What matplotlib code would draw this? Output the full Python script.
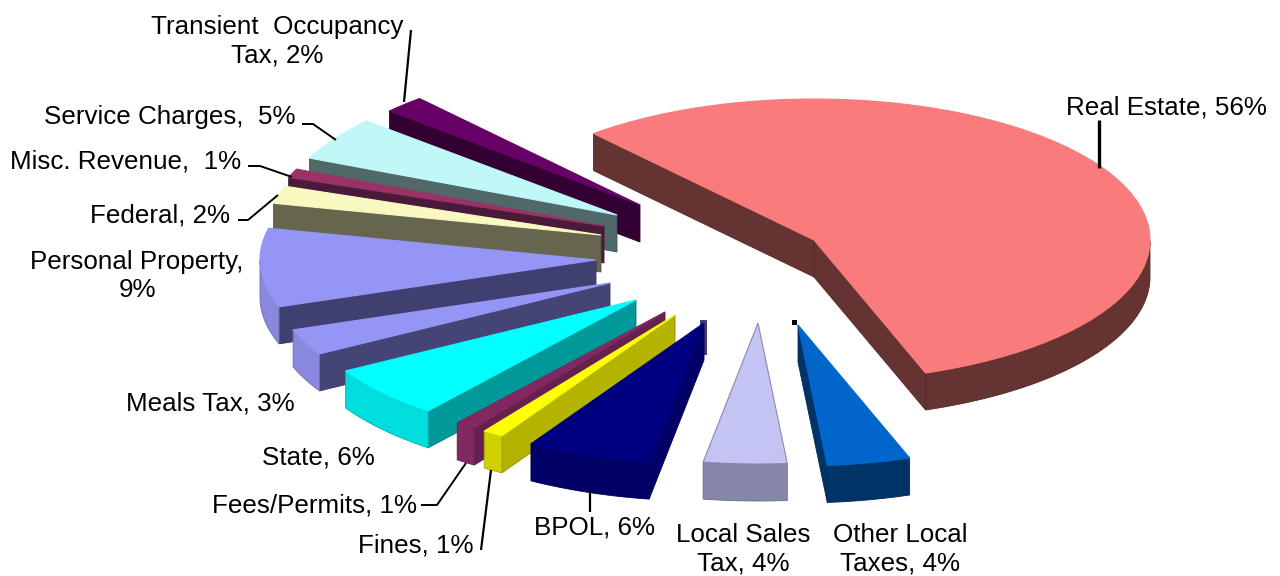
import numpy as np
import matplotlib
matplotlib.use("Agg")
import matplotlib.pyplot as plt
from matplotlib.colors import to_rgb
from matplotlib.patches import Polygon, Rectangle
from matplotlib.transforms import Affine2D

plt.rcParams['font.family'] = ['Liberation Sans', 'DejaVu Sans']

# ---- data ----
categories = ["Real Estate", "Other Local Taxes", "Local Sales Tax", "BPOL", "Fines",
              "Fees/Permits", "State", "Meals Tax", "Personal Property", "Federal",
              "Misc. Revenue", "Service Charges", "Transient Occupancy Tax"]
values = [56, 4, 4, 6, 1, 1, 6, 3, 9, 2, 1, 5, 2]

# ---- layout and style ----
START_ANGLE = 131
RX, RY, DEPTH = 336, 141, 37
apex = [(814, 240), (798, 325), (758, 323), (704, 323), (675, 315), (665, 312),
        (636, 300), (610, 283), (596, 260), (601, 235), (604, 226), (617, 215), (640, 205)]
top_colors = ['#F97B7B', '#0066CC', '#C4C4F4', '#000080', '#FFFF00', '#80285F', '#00FFFF',
              '#9595F5', '#9595F5', '#F8F8C0', '#993366', '#C0F8F8', '#660066']
arc_colors = ['#663333', '#003366', '#8686A8', '#000066', '#D0D000', '#80285F', '#00DDDD',
              '#8888DD', '#8888DD', '#66664F', '#4A1A3A', '#506868', '#330033']
radial_colors = ['#663333', '#003366', '#8686A8', '#000066', '#B3B300', '#65204D', '#009999',
                 '#444477', '#404070', '#66664F', '#4A1A3A', '#506868', '#330033']
draw_order = [12, 11, 10, 9, 8, 7, 6, 5, 4, 3, 2, 1, 0]

label_items = [
    ("Transient  Occupancy\nTax, 2%", 277, 41, 'center'),
    ("Service Charges,  5%", 296, 117, 'right'),
    ("Misc. Revenue,  1%", 241, 162, 'right'),
    ("Federal, 2%", 230, 215, 'right'),
    ("Personal Property,\n9%", 137, 276, 'center'),
    ("Meals Tax, 3%", 295, 404, 'right'),
    ("State, 6%", 375, 458, 'right'),
    ("Fees/Permits, 1%", 417, 505, 'right'),
    ("Fines, 1%", 474, 545, 'right'),
    ("BPOL, 6%", 594, 528, 'center'),
    ("Local Sales\nTax, 4%", 743, 549, 'center'),
    ("Other Local\nTaxes, 4%", 900, 549, 'center'),
    ("Real Estate, 56%", 1267, 107, 'right'),
]
leaders = [
    ([411, 404], [30, 102], 1.6),
    ([302, 313, 336], [124, 124, 140], 1.4),
    ([248, 260, 292], [166, 166, 177], 1.4),
    ([238, 248, 278], [220, 220, 195], 1.4),
    ([421, 437, 466], [505, 505, 463], 1.4),
    ([491, 481], [470, 550], 1.6),
    ([590, 590], [490, 512], 1.6),
    ([1099, 1099], [120, 168], 2.4),
]

fig = plt.figure(figsize=(12.8, 5.76), dpi=100)
ax = fig.add_axes([0, 0, 1, 1])
wedges, _ = ax.pie(values, startangle=START_ANGLE, counterclock=False, radius=1)
ax.set_aspect('auto')
ax.set_xlim(0, 1280)
ax.set_ylim(576, 0)
ax.axis('off')


def to_px(theta, origin):
    t = np.radians(theta)
    return np.column_stack([origin[0] + RX * np.cos(t), origin[1] - RY * np.sin(t)])


def quad(points, color, z):
    down = points[::-1] + np.array([0, DEPTH])
    ax.add_patch(Polygon(np.vstack([points, down]), closed=True, facecolor=color,
                         edgecolor=tuple(0.8 * c for c in to_rgb(color)),
                         linewidth=0.6, zorder=z, clip_on=False))


for order, i in enumerate(draw_order):
    w = wedges[i]
    org = apex[i]
    z = 2 + order * 2
    t1, t2 = w.theta1, w.theta2
    if np.sin(np.radians(t1 - 90)) < 0:
        quad(np.vstack([org, to_px(np.array([t1]), org)]), radial_colors[i], z)
    if np.sin(np.radians(t2 + 90)) < 0:
        quad(np.vstack([org, to_px(np.array([t2]), org)]), radial_colors[i], z)
    angles = np.linspace(t1, t2, 240)
    front = angles[np.sin(np.radians(angles)) < 0]
    if len(front) > 1:
        quad(to_px(front, org), arc_colors[i], z)
    w.set_transform(Affine2D().scale(RX, -RY).translate(*org) + ax.transData)
    w.set_facecolor(top_colors[i])
    w.set_edgecolor('#8A8AA8' if i == 2 else top_colors[i])
    w.set_linewidth(0.8)
    w.set_zorder(z + 1)
    w.set_clip_on(False)

# small strip behind the BPOL apex and dark dot at the Other Local apex
ax.add_patch(Rectangle((700, 320), 7, 35, facecolor='#3F3F75', edgecolor='none', zorder=1))
ax.add_patch(Rectangle((792, 320), 5, 5, facecolor='black', edgecolor='none', zorder=40))

for x, y, lw in leaders:
    ax.plot(x, y, color='black', lw=lw, solid_capstyle='butt', zorder=50, clip_on=False)

for text, x, y, ha in label_items:
    ax.text(x, y, text, ha=ha, va='center', fontsize=18.7, color='black',
            linespacing=1.25, zorder=60)

fig.savefig('out.png', dpi=100, facecolor='white')
